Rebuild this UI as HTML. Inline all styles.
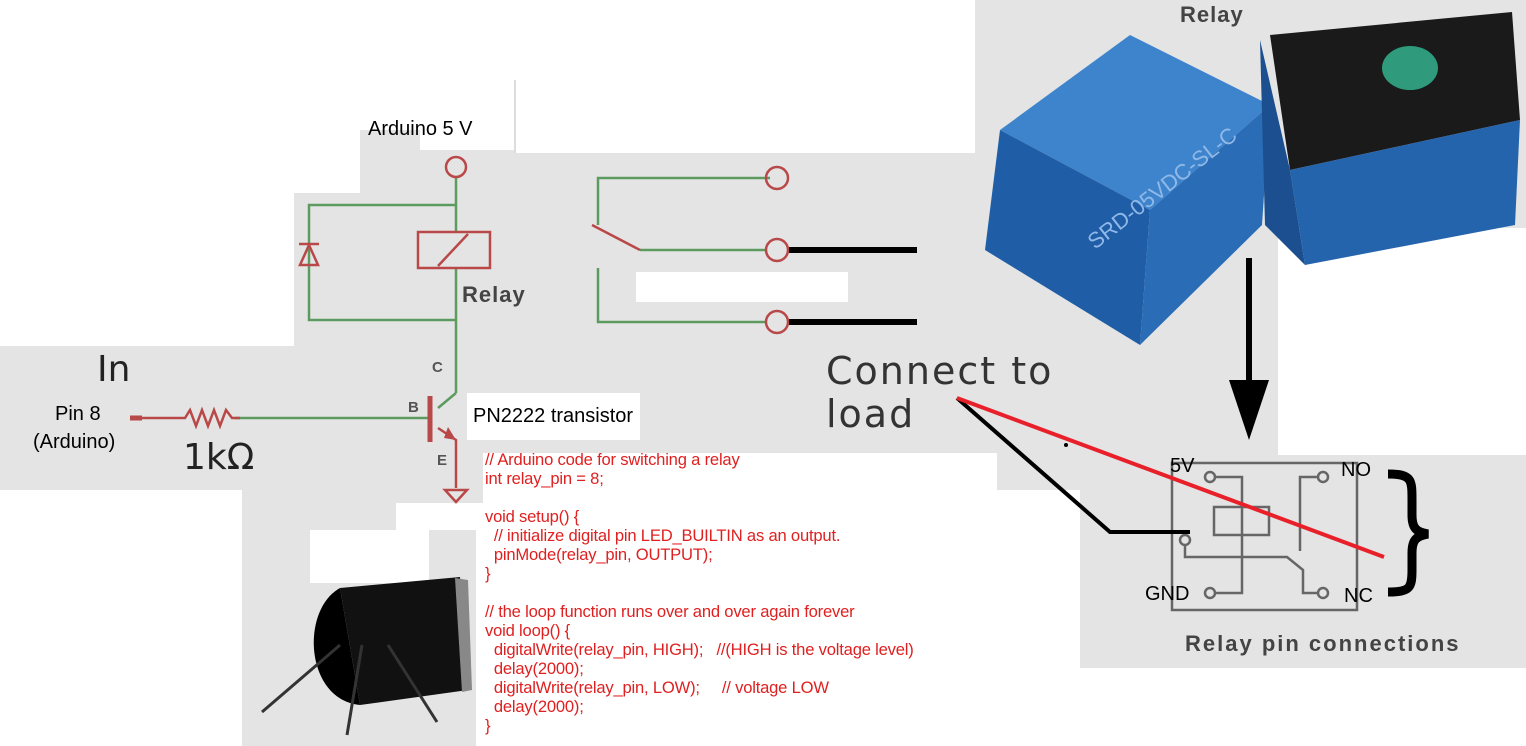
<!DOCTYPE html>
<html><head><meta charset="utf-8"><style>
html,body{margin:0;padding:0;background:#fff;}
#c{position:relative;width:1526px;height:746px;overflow:hidden;background:#fff;font-family:"Liberation Sans",sans-serif;}
.g{position:absolute;background:#e4e4e4;}
.w{position:absolute;background:#fff;}
.t{position:absolute;white-space:pre;line-height:1;}
#code{position:absolute;left:485px;top:450px;color:#e02020;font-size:16.6px;line-height:19px;white-space:pre;font-family:"Liberation Sans",sans-serif;letter-spacing:-0.2px;}
</style></head><body><div id="c">
<div class="g" style="left:975px;top:0;width:551px;height:228px"></div>
<div class="g" style="left:975px;top:228px;width:303px;height:147px"></div>
<div class="g" style="left:515px;top:153px;width:460px;height:300px"></div>
<div class="g" style="left:975px;top:375px;width:303px;height:80px"></div>
<div class="g" style="left:975px;top:455px;width:105px;height:35px"></div>
<div class="g" style="left:1080px;top:455px;width:446px;height:213px"></div>
<div class="g" style="left:360px;top:130px;width:155px;height:323px"></div>
<div class="g" style="left:294px;top:193px;width:70px;height:260px"></div>
<div class="g" style="left:0;top:346px;width:483px;height:144px"></div>
<div class="g" style="left:294px;top:453px;width:189px;height:50px"></div>
<div class="g" style="left:242px;top:490px;width:234px;height:256px"></div>
<div class="w" style="left:420px;top:110px;width:95px;height:40px"></div>
<div class="w" style="left:362px;top:110px;width:60px;height:20px"></div>
<div style="position:absolute;left:514px;top:80px;width:2px;height:73px;background:#ddd"></div>
<div class="w" style="left:636px;top:272px;width:212px;height:30px"></div>
<div class="w" style="left:467px;top:393px;width:173px;height:47px"></div>
<div class="w" style="left:483px;top:453px;width:514px;height:293px"></div>
<div class="w" style="left:396px;top:503px;width:87px;height:27px"></div>
<div class="w" style="left:310px;top:530px;width:119px;height:53px"></div>

<svg width="1526" height="746" style="position:absolute;left:0;top:0">
<g fill="none" stroke="#5c9a60" stroke-width="2.5">
<line x1="456" y1="177" x2="456" y2="232"/>
<line x1="456" y1="268" x2="456" y2="393"/>
<polyline points="456,205 309,205 309,320 456,320"/>
<polyline points="770,178 598,178 598,225"/>
<line x1="640" y1="250" x2="765" y2="250"/>
<polyline points="598,268 598,322 765,322"/>
<line x1="235" y1="418" x2="430" y2="418"/>
<line x1="456" y1="393" x2="438" y2="408"/>
</g>
<g fill="none" stroke="#b94848" stroke-width="2.5">
<circle cx="456" cy="167" r="10"/>
<rect x="418" y="232" width="72" height="36"/>
<line x1="438" y1="266" x2="468" y2="234"/>
<polygon points="300,265 318,265 309,245"/>
<line x1="299" y1="244" x2="319" y2="244"/>
<circle cx="777" cy="178" r="11"/>
<circle cx="777" cy="250" r="11"/>
<circle cx="777" cy="322" r="11"/>
<line x1="592" y1="225" x2="640" y2="250"/>
<polyline points="130,418 185,418 190,410 196,426 202,410 208,426 214,410 220,426 226,410 232,418 240,418"/>
<polyline points="438,428 456,440 456,488"/>
<polygon points="445,490 467,490 456,502"/>
</g>
<line x1="430" y1="396" x2="430" y2="442" stroke="#b94848" stroke-width="5"/>
<polygon points="448,427 456,440 444,438" fill="#b94848"/>
<line x1="130" y1="418" x2="142" y2="418" stroke="#b94848" stroke-width="5"/>
<line x1="789" y1="250" x2="917" y2="250" stroke="#000" stroke-width="6"/>
<line x1="789" y1="322" x2="917" y2="322" stroke="#000" stroke-width="6"/>

<polygon points="1000,130 1130,35 1270,105 1150,210" fill="#3d84cc"/>
<polygon points="1000,130 1150,210 1140,345 985,250" fill="#1f5ea6"/>
<polygon points="1150,210 1270,105 1262,225 1140,345" fill="#2a6cb5"/>
<text x="1095" y="250" fill="#8fb8e8" font-size="22" transform="rotate(-38 1095 250)" font-family="Liberation Sans">SRD-05VDC-SL-C</text>
<polygon points="1270,35 1512,12 1520,120 1290,170" fill="#1a1a1a"/>
<polygon points="1290,170 1520,120 1515,225 1305,265" fill="#2464ad"/>
<polygon points="1260,40 1290,170 1305,265 1265,225" fill="#1b4f8f"/>
<ellipse cx="1410" cy="68" rx="28" ry="22" fill="#2f9a7c"/>
<line x1="1249" y1="258" x2="1249" y2="395" stroke="#000" stroke-width="6"/>
<polygon points="1229,380 1269,380 1249,440" fill="#000"/>
<g fill="none" stroke="#666" stroke-width="2.5">
<rect x="1172" y="463" width="185" height="147"/>
<rect x="1214" y="507" width="55" height="28"/>
<polyline points="1215,477 1242,477 1242,593 1215,593"/>
<polyline points="1185,543 1185,557 1287,557 1303,570 1303,593 1318,593"/>
<polyline points="1318,477 1300,477 1300,551"/>
<circle cx="1210" cy="477" r="5" fill="#e4e4e4"/>
<circle cx="1323" cy="477" r="5" fill="#e4e4e4"/>
<circle cx="1185" cy="540" r="5" fill="#e4e4e4"/>
<circle cx="1210" cy="593" r="5" fill="#e4e4e4"/>
<circle cx="1323" cy="593" r="5" fill="#e4e4e4"/>
</g>
<polygon points="340,588 460,577 468,690 360,705" fill="#111"/>
<path d="M340,588 C300,610 305,700 360,705 Z" fill="#000"/>
<polygon points="455,578 468,580 472,690 462,692" fill="#888"/>
<g stroke="#333" stroke-width="3">
<line x1="340" y1="645" x2="262" y2="712"/>
<line x1="362" y1="645" x2="347" y2="735"/>
<line x1="388" y1="645" x2="437" y2="722"/>
</g>
<polyline points="957,398 1110,532 1190,532" fill="none" stroke="#000" stroke-width="4"/>
<line x1="957" y1="398" x2="1384" y2="557" stroke="#e8202a" stroke-width="4"/>
<circle cx="1066" cy="445" r="2" fill="#000"/>
<!-- brace -->
<path d="M1388,474 C1412,474 1412,480 1412,500 L1412,515 C1412,528 1416,532 1428,534 C1416,536 1412,540 1412,553 L1412,570 C1412,588 1410,592 1388,592" fill="none" stroke="#000" stroke-width="9"/>
</svg>

<div class="t" style="left:368px;top:119px;font-size:20px;color:#000">Arduino 5 V</div>
<div class="t" style="left:462px;top:284px;font-size:22px;color:#444;font-weight:bold;letter-spacing:1px">Relay</div>
<div class="t" style="left:97px;top:352px;font-size:36px;color:#222;font-family:'DejaVu Sans',sans-serif">In</div>
<div class="t" style="left:55px;top:404px;font-size:20px;color:#000">Pin 8</div>
<div class="t" style="left:33px;top:432px;font-size:20px;color:#000">(Arduino)</div>
<div class="t" style="left:183px;top:440px;font-size:36px;color:#222;font-family:'DejaVu Sans',sans-serif">1kΩ</div>
<div class="t" style="left:432px;top:360px;font-size:15px;color:#555;font-weight:bold">C</div>
<div class="t" style="left:408px;top:400px;font-size:15px;color:#555;font-weight:bold">B</div>
<div class="t" style="left:437px;top:453px;font-size:15px;color:#555;font-weight:bold">E</div>
<div class="t" style="left:473px;top:406px;font-size:20px;color:#000">PN2222 transistor</div>
<div class="t" style="left:826px;top:352px;font-size:38px;color:#333;letter-spacing:2px;font-family:'DejaVu Sans',sans-serif">Connect to</div>
<div class="t" style="left:826px;top:395px;font-size:38px;color:#333;letter-spacing:2px;font-family:'DejaVu Sans',sans-serif">load</div>
<div class="t" style="left:1180px;top:4px;font-size:22px;color:#444;font-weight:bold;letter-spacing:1px">Relay</div>
<div class="t" style="left:1170px;top:456px;font-size:20px;color:#000">5V</div>
<div class="t" style="left:1341px;top:460px;font-size:20px;color:#000">NO</div>
<div class="t" style="left:1145px;top:584px;font-size:20px;color:#000">GND</div>
<div class="t" style="left:1344px;top:586px;font-size:20px;color:#000">NC</div>
<div class="t" style="left:1185px;top:633px;font-size:22px;color:#444;font-weight:bold;letter-spacing:2px">Relay pin connections</div>
<div id="code">// Arduino code for switching a relay
int relay_pin = 8;

void setup() {
  // initialize digital pin LED_BUILTIN as an output.
  pinMode(relay_pin, OUTPUT);
}

// the loop function runs over and over again forever
void loop() {
  digitalWrite(relay_pin, HIGH);   //(HIGH is the voltage level)
  delay(2000);
  digitalWrite(relay_pin, LOW);     // voltage LOW
  delay(2000);
}</div>
</div></body></html>
